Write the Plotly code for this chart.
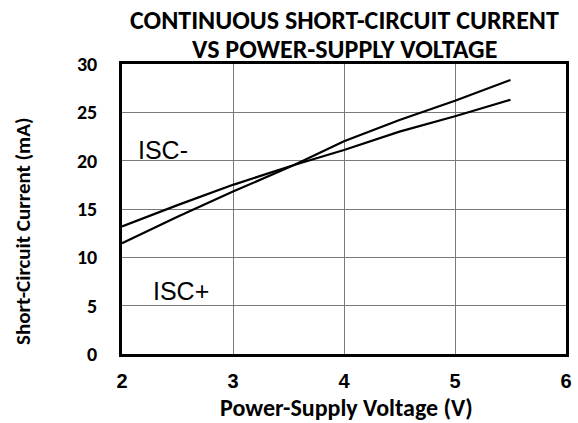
import plotly.graph_objects as go

# ISC+ (steeper line, lower at 2 V)
isc_plus_v = [2.0, 2.5, 3.0, 3.55, 4.0, 4.5, 5.0, 5.5]
isc_plus_i = [11.45, 14.2, 16.8, 19.55, 22.0, 24.2, 26.2, 28.35]
# ISC- (flatter line, higher at 2 V)
isc_minus_v = [2.0, 2.5, 3.0, 3.55, 4.0, 4.5, 5.0, 5.5]
isc_minus_i = [13.2, 15.4, 17.5, 19.55, 21.1, 23.0, 24.6, 26.3]

x_ticks = [2, 3, 4, 5, 6]
y_ticks = [0, 5, 10, 15, 20, 25, 30]

title_lines = ["CONTINUOUS SHORT-CIRCUIT CURRENT", "VS POWER-SUPPLY VOLTAGE"]
x_title = "Power-Supply Voltage (V)"
y_title = "Short-Circuit Current (mA)"

CAL = "Carlito, Lato, 'Open Sans', sans-serif"
ARI = "'Liberation Sans', Arial, sans-serif"

fig = go.Figure()
fig.add_trace(go.Scatter(x=isc_minus_v, y=isc_minus_i, mode="lines",
                         line=dict(color="black", width=2.2), showlegend=False))
fig.add_trace(go.Scatter(x=isc_plus_v, y=isc_plus_i, mode="lines",
                         line=dict(color="black", width=2.2), showlegend=False))

fig.update_layout(
    width=578, height=423,
    margin=dict(l=122, r=12, t=64, b=69),
    paper_bgcolor="white", plot_bgcolor="white",
    showlegend=False,
    xaxis=dict(range=[2, 6], tickvals=x_ticks, showgrid=True, gridcolor="#7a7a7a", gridwidth=1,
               zeroline=False, showline=True, linecolor="black", linewidth=2.5, mirror=True,
               automargin=False,
               ticks="outside", ticklen=7, tickcolor="rgba(0,0,0,0)",
               tickfont=dict(family=ARI, size=20, color="black", weight="bold")),
    yaxis=dict(range=[0, 30], tickvals=y_ticks, showgrid=True, gridcolor="#7a7a7a", gridwidth=1,
               zeroline=False, showline=True, linecolor="black", linewidth=2.5, mirror=True,
               automargin=False,
               ticks="outside", ticklen=18, tickcolor="rgba(0,0,0,0)",
               tickfont=dict(family=CAL, size=20, color="black", weight="bold")),
)

# chart title (two lines)
fig.add_annotation(text=title_lines[0], xref="paper", yref="paper", x=0.5, y=1.1517,
                   xanchor="center", yanchor="middle", showarrow=False,
                   font=dict(family=CAL, size=26, color="black", weight="bold"))
fig.add_annotation(text=title_lines[1], xref="paper", yref="paper", x=0.5, y=1.0534,
                   xanchor="center", yanchor="middle", showarrow=False,
                   font=dict(family=CAL, size=26, color="black", weight="bold"))
# axis titles
fig.add_annotation(text=x_title, xref="paper", yref="paper", x=0.505, y=-0.1845,
                   xanchor="center", yanchor="middle", showarrow=False,
                   font=dict(family=CAL, size=24, color="black", weight="bold"))
fig.add_annotation(text=y_title, xref="paper", yref="paper", x=-0.223, y=0.424,
                   xanchor="center", yanchor="middle", showarrow=False, textangle=-90,
                   font=dict(family=CAL, size=21, color="black", weight="bold"))
# series labels
fig.add_annotation(text="ISC-", xref="x", yref="y", x=2.13, y=21.1, xanchor="left", yanchor="middle",
                   showarrow=False, font=dict(family=ARI, size=25, color="black"))
fig.add_annotation(text="ISC+", xref="x", yref="y", x=2.26, y=6.5, xanchor="left", yanchor="middle",
                   showarrow=False, font=dict(family=ARI, size=25, color="black"))

fig.write_html("out.html", config={"displayModeBar": False},
               post_script="document.body.style.margin='0';"
                           "document.documentElement.style.overflow='hidden';")
